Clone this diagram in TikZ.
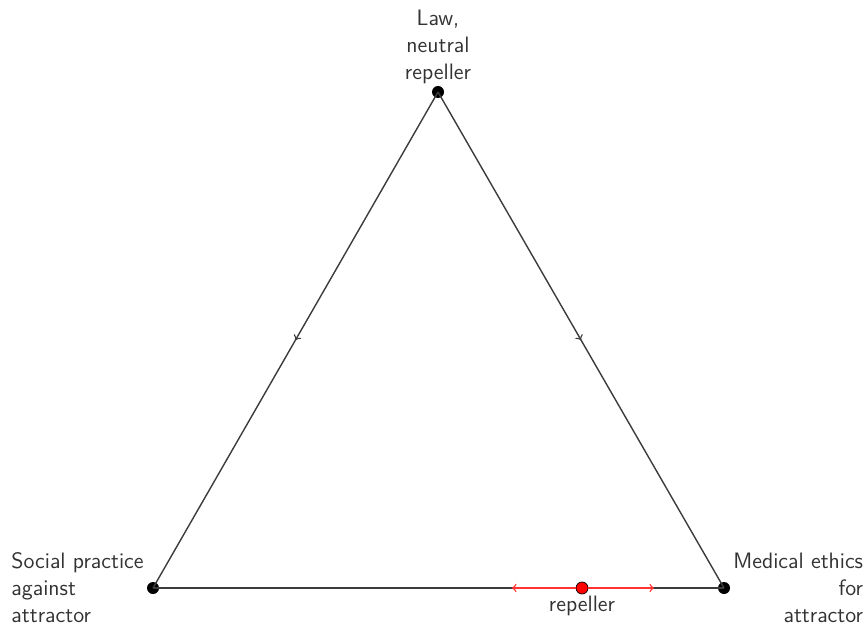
\documentclass[tikz,border=0pt]{standalone}
\usepackage{xcolor}
\usetikzlibrary{positioning,calc,decorations.markings}
\definecolor{edge-grey}{HTML}{3C3C3C}

\begin{document}
\begin{tikzpicture}[
      every node/.style={font=\sffamily\fontsize{12.7}{15.3}\selectfont, text=black!80},
      dot/.style={circle, fill=black, inner sep=0pt, minimum size=0.24cm},
      reddot/.style={circle, fill=red, draw=black, thin, inner sep=0pt, minimum size=0.24cm},
      flowedge/.style={edge-grey, thick, postaction={decorate},
        decoration={markings, mark=at position 0.5 with {\arrow{to}}}}]
    \useasboundingbox (0,0) rectangle (17.36,-12.54);
    % vertices of the simplex
    \node[dot] (law) at (8.76,-1.84) {};
    \node[dot] (soc) at (3.06,-11.76) {};
    \node[dot] (med) at (14.48,-11.76) {};
    % edges
    \draw[flowedge] (law.center) -- (soc.center);
    \draw[flowedge] (law.center) -- (med.center);
    \draw[edge-grey, thick] (soc.center) -- (med.center);
    % repeller on the bottom edge
    \coordinate (rl) at (10.24,-11.76);
    \coordinate (rr) at (13.08,-11.76);
    \node[reddot] (rep) at (11.64,-11.76) {};
    \draw[red!80, thick, ->] (rep) -- (rl);
    \draw[red!80, thick, ->] (rep) -- (rr);
    \node[below=0pt of rep, inner sep=1pt] (replab) {repeller};
    % labels
    \node[above=0pt of law, align=center, inner sep=1pt] (lawlab) {Law,\\neutral\\repeller};
    \node[left=0.02cm of soc, align=left, inner sep=1pt] (soclab) {Social practice\\against\\attractor};
    \node[right=0.02cm of med, align=right, inner sep=1pt] (medlab) {Medical ethics\\for\\attractor};
  \end{tikzpicture}
\end{document}
